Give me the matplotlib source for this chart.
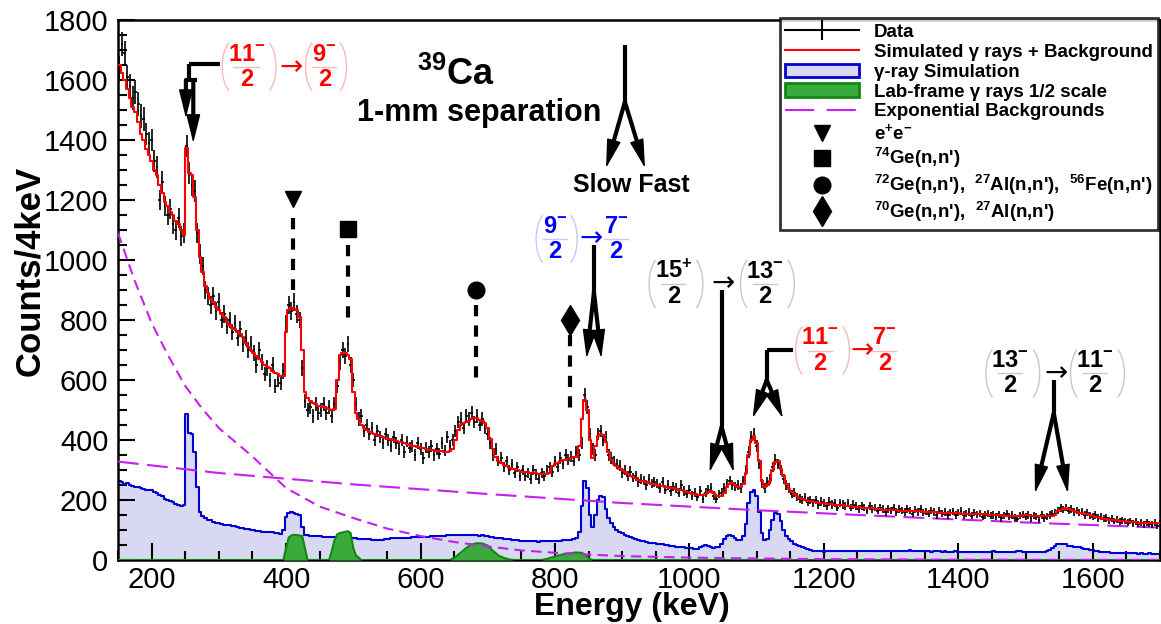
import matplotlib
matplotlib.use('Agg')
import matplotlib.pyplot as plt
import numpy as np
from matplotlib.lines import Line2D
from matplotlib.patches import Patch
from matplotlib.ticker import MultipleLocator

plt.rcParams['font.family'] = ['Liberation Sans', 'DejaVu Sans']
plt.rcParams['mathtext.fontset'] = 'custom'
plt.rcParams['mathtext.rm'] = 'Liberation Sans:bold'
plt.rcParams['mathtext.it'] = 'Liberation Sans:bold'
plt.rcParams['mathtext.bf'] = 'Liberation Sans:bold'

# 4 keV bins, centres 152 ... 1700 keV
data_counts = [
    1640, 1720, 1690, 1610, 1580, 1540, 1560, 1520, 1480, 1470, 1420, 1390, 1400, 1330, 1310, 1200, 1260, 1180, 1150, 1170, 1120, 1100, 1140, 1080, 1090,
    1380, 1290, 1250, 1230, 1090, 1020, 980, 900, 880, 850, 880, 830, 860, 800, 820, 780, 800, 760, 790, 740, 770, 720, 740, 700, 720,
    690, 650, 700, 660, 620, 640, 600, 650, 580, 600, 590, 630, 790, 850, 830, 860, 820, 800, 640, 530, 500, 510, 480, 520, 490,
    500, 520, 490, 510, 480, 520, 580, 660, 700, 680, 720, 650, 600, 520, 470, 480, 430, 450, 420, 440, 400, 430, 410, 390, 420,
    400, 380, 410, 390, 370, 400, 360, 395, 375, 380, 350, 390, 370, 340, 375, 360, 380, 350, 370, 355, 390, 365, 410, 380, 400,
    430, 460, 470, 440, 480, 470, 490, 460, 480, 450, 470, 440, 420, 390, 350, 370, 330, 340, 310, 330, 300, 320, 290, 310, 280,
    300, 280, 290, 270, 300, 285, 270, 290, 280, 300, 310, 295, 330, 310, 340, 320, 350, 335, 345, 330, 360, 350, 390, 550, 510,
    420, 370, 350, 420, 430, 400, 410, 350, 340, 330, 320, 315, 290, 300, 280, 295, 275, 280, 260, 270, 265, 250, 270, 255, 260,
    255, 240, 260, 235, 250, 230, 245, 240, 225, 250, 230, 220, 235, 215, 225, 210, 230, 205, 225, 235, 240, 215, 205, 220, 225,
    240, 255, 265, 250, 245, 250, 240, 265, 300, 360, 410, 420, 380, 320, 255, 240, 260, 270, 310, 335, 320, 300, 270, 250, 240,
    220, 225, 210, 205, 200, 210, 195, 200, 190, 200, 185, 195, 190, 180, 195, 185, 190, 175, 190, 185, 180, 190, 175, 185, 180,
    170, 180, 175, 165, 180, 170, 175, 165, 175, 170, 160, 170, 165, 175, 160, 170, 165, 160, 170, 165, 155, 168, 160, 170, 158,
    162, 155, 165, 160, 150, 165, 155, 160, 150, 158, 162, 150, 158, 165, 150, 155, 160, 148, 158, 152, 155, 145, 150, 155, 148,
    150, 145, 152, 140, 148, 155, 145, 150, 140, 138, 148, 152, 145, 150, 140, 148, 145, 135, 150, 140, 145, 150, 155, 158, 165,
    172, 168, 175, 165, 170, 160, 165, 158, 162, 150, 158, 148, 145, 150, 140, 145, 138, 140, 132, 138, 130, 135, 128, 132, 130,
    125, 130, 122, 128, 120, 125, 118, 126, 120, 118, 124, 115, 122,
]

sim_total = [
    1650, 1625, 1600, 1570, 1540, 1510, 1495, 1460, 1420, 1400, 1370, 1350, 1330, 1300, 1285, 1250, 1225, 1195, 1180, 1160, 1150, 1130, 1120, 1100, 1085,
    1375, 1290, 1285, 1210, 1100, 1010, 960, 915, 890, 870, 860, 845, 835, 820, 810, 795, 785, 775, 770, 760, 755, 745, 725, 710, 700,
    690, 680, 670, 660, 650, 645, 640, 630, 625, 620, 615, 612, 760, 835, 840, 838, 832, 810, 700, 560, 540, 530, 525, 520, 515,
    512, 510, 506, 503, 500, 505, 600, 685, 690, 690, 685, 670, 560, 490, 470, 450, 440, 432, 428, 422, 420, 416, 413, 411, 408,
    405, 402, 400, 397, 394, 392, 389, 386, 384, 381, 379, 376, 374, 372, 370, 368, 367, 366, 364, 363, 362, 361, 361, 362, 370,
    400, 435, 450, 456, 460, 465, 470, 472, 472, 468, 462, 456, 440, 405, 370, 345, 330, 322, 316, 312, 308, 305, 302, 299, 297,
    295, 294, 293, 291, 290, 289, 288, 288, 287, 287, 290, 315, 320, 325, 330, 333, 335, 338, 340, 342, 345, 380, 470, 535, 500,
    400, 340, 380, 415, 420, 418, 395, 360, 335, 320, 312, 305, 300, 293, 287, 281, 276, 272, 268, 265, 262, 259, 256, 254, 252,
    250, 248, 246, 244, 242, 240, 239, 237, 235, 232, 229, 226, 223, 221, 219, 218, 217, 217, 220, 226, 229, 225, 215, 212, 213,
    225, 245, 255, 258, 250, 244, 245, 255, 290, 350, 400, 412, 390, 330, 265, 245, 250, 265, 300, 328, 330, 305, 280, 255, 238,
    228, 220, 212, 207, 203, 200, 198, 196, 194, 192, 191, 190, 189, 188, 187, 186, 185, 184, 183, 182, 181, 180, 179, 178, 177,
    176, 175, 174, 173, 172, 172, 171, 170, 169, 168, 168, 167, 167, 166, 166, 165, 165, 164, 164, 164, 163, 163, 162, 162, 161,
    161, 160, 160, 159, 159, 158, 158, 158, 157, 157, 157, 156, 156, 155, 155, 155, 154, 154, 154, 153, 153, 152, 152, 151, 151,
    150, 150, 149, 149, 148, 148, 148, 147, 147, 147, 148, 149, 150, 149, 148, 147, 147, 146, 146, 146, 146, 146, 147, 150, 162,
    168, 170, 172, 170, 166, 162, 159, 157, 156, 155, 153, 150, 147, 144, 142, 140, 138, 136, 135, 134, 133, 132, 131, 130, 129,
    128, 127, 126, 126, 125, 125, 124, 124, 123, 123, 122, 122, 122,
]

sim_gamma = [
    262, 260, 255, 258, 250, 248, 245, 243, 240, 236, 235, 233, 232, 226, 222, 218, 214, 205, 200, 196, 192, 186, 183, 180, 182,
    486, 425, 420, 360, 245, 160, 148, 140, 135, 132, 128, 125, 122, 120, 118, 117, 116, 114, 112, 110, 108, 106, 104, 102, 100,
    99, 97, 96, 95, 94, 93, 92, 92, 90, 90, 88, 100, 145, 158, 160, 158, 155, 150, 110, 84, 82, 81, 80, 80, 79,
    79, 78, 78, 77, 77, 76, 76, 75, 75, 74, 74, 73, 72, 72, 71, 70, 70, 69, 70, 68, 68, 67, 67, 68, 70,
    71, 72, 72, 73, 73, 74, 74, 75, 75, 76, 76, 77, 77, 78, 78, 78, 79, 79, 80, 80, 81, 81, 82, 82, 83,
    83, 84, 84, 83, 85, 82, 84, 85, 83, 81, 82, 80, 79, 78, 76, 75, 74, 72, 71, 70, 69, 68, 67, 66, 65,
    65, 64, 63, 63, 62, 62, 61, 62, 62, 63, 63, 64, 64, 65, 65, 66, 66, 67, 67, 70, 72, 95, 180, 265, 240,
    150, 110, 150, 200, 212, 210, 170, 140, 122, 110, 100, 94, 89, 85, 81, 77, 74, 71, 68, 65, 63, 61, 58, 57, 56,
    55, 53, 52, 50, 49, 48, 46, 45, 44, 43, 42, 40, 39, 39, 38, 38, 42, 46, 50, 47, 42, 40, 42, 45, 55,
    70, 80, 83, 80, 72, 68, 66, 80, 120, 190, 228, 235, 215, 160, 90, 68, 70, 100, 135, 156, 152, 130, 100, 80, 70,
    62, 55, 50, 46, 42, 39, 36, 33, 31, 30, 29, 29, 28, 29, 30, 30, 29, 29, 30, 30, 29, 30, 31, 30, 30,
    29, 30, 31, 30, 30, 31, 30, 29, 30, 31, 30, 30, 29, 30, 31, 30, 29, 30, 31, 32, 31, 30, 29, 30, 29,
    30, 29, 28, 29, 30, 29, 28, 29, 28, 27, 28, 29, 28, 27, 28, 27, 28, 27, 26, 27, 28, 27, 26, 27, 28,
    29, 28, 27, 27, 26, 27, 26, 27, 28, 30, 29, 28, 27, 28, 27, 27, 28, 28, 27, 27, 30, 33, 40, 48, 52,
    54, 53, 52, 48, 46, 45, 43, 42, 40, 38, 36, 34, 32, 30, 29, 28, 27, 26, 26, 25, 25, 24, 24, 23, 23,
    23, 22, 22, 22, 21, 22, 21, 21, 22, 21, 21, 21, 21,
]

# lab-frame gamma rays (1/2 scale)
lab_energy = [150, 396, 400, 404, 408, 412, 416, 420, 424, 428, 432,
              464, 468, 472, 476, 480, 484, 488, 492, 496, 500, 504, 508, 512,
              644, 652, 660, 668, 676, 684, 692, 700, 708, 716, 724, 732, 740,
              780, 790, 800, 810, 820, 830, 840, 846, 852, 856, 1700]
lab_counts = [0, 0, 40, 75, 82, 84, 83, 82, 80, 40, 0,
              0, 30, 65, 85, 90, 92, 94, 96, 90, 40, 15, 8, 0,
              0, 10, 25, 40, 52, 56, 55, 48, 30, 15, 7, 2, 0,
              0, 5, 12, 18, 22, 25, 24, 15, 3, 0, 0]

# exponential backgrounds
bg1_energy = [150, 175, 200, 225, 250, 275, 300, 350, 400, 450, 500, 550, 600,
              650, 700, 750, 800, 850, 900, 1000, 1100, 1200, 1400, 1700]
bg1_counts = [1090, 930, 790, 680, 580, 505, 440, 345, 240, 178, 140, 105, 80,
              60, 45, 32, 24, 18, 13, 8, 5, 3, 1, 0.3]
bg2_energy = [150, 300, 500, 700, 900, 1100, 1300, 1500, 1700]
bg2_counts = [328, 290, 252, 220, 190, 166, 145, 125, 108]

energy = 152 + 4 * np.arange(len(data_counts))
data_counts = np.array(data_counts)

RED = '#ff0000'
BLUE = '#0000d0'
LAV = '#d8d8f2'
GREEN = '#3aaa3a'
DKGREEN = '#118811'
MAG = '#c81ef0'

fig = plt.figure(figsize=(11.61, 6.24), dpi=100)
ax = fig.add_axes([118 / 1161, 64 / 624, 1042 / 1161, 540 / 624])

ax.fill_between(energy, sim_gamma, step='mid', color=LAV, lw=0, zorder=1)
ax.step(energy, sim_gamma, where='mid', color=BLUE, lw=1.5, zorder=2)
ax.fill_between(lab_energy, lab_counts, color=GREEN, lw=0, zorder=3)
ax.plot(lab_energy, lab_counts, color=DKGREEN, lw=1.5, zorder=3)
ax.plot(bg1_energy, bg1_counts, color=MAG, lw=1.5, ls=(0, (5, 3)), zorder=4)
ax.plot(bg2_energy, bg2_counts, color=MAG, lw=1.5, ls=(0, (10, 4)), zorder=4)
ax.errorbar(energy, data_counts, xerr=2, yerr=np.sqrt(data_counts), fmt='none',
            ecolor='k', elinewidth=1.2, capsize=0, zorder=5)
ax.step(energy, sim_total, where='mid', color=RED, lw=1.5, zorder=6)

ax.set_xlim(150, 1700)
ax.set_ylim(0, 1800)
ax.xaxis.set_major_locator(MultipleLocator(200))
ax.xaxis.set_minor_locator(MultipleLocator(50))
ax.yaxis.set_major_locator(MultipleLocator(200))
ax.yaxis.set_minor_locator(MultipleLocator(50))
ax.tick_params(which='both', direction='in', top=False, right=False, width=1.5)
ax.tick_params(which='major', length=12, labelsize=21)
ax.tick_params(axis='x', which='major', pad=4)
ax.tick_params(axis='y', which='major', pad=7)
ax.tick_params(which='minor', length=6.5)
for s in ax.spines.values():
    s.set_linewidth(1.8)

ax.set_xlabel('Energy (keV)', fontsize=23, fontweight='bold')
ax.set_ylabel('Counts/4keV', fontsize=25, fontweight='bold')
ax.xaxis.set_label_coords(0.493, -0.059)
ax.yaxis.set_label_coords(-0.069, 0.535)

# titles
ax.text(653, 1617, r'$^{39}$Ca', fontsize=26, fontweight='bold', ha='center', va='center')
ax.text(688, 1490, '1-mm separation', fontsize=22, fontweight='bold', ha='center', va='center')
ax.text(914, 1250, 'Slow Fast', fontsize=18, fontweight='bold', ha='center', va='center')


def stem(x0, y0, x1, y1):
    ax.plot([x0, x1], [y0, y1], color='k', lw=3, solid_capstyle='butt', zorder=7)


def head(x0, y0, x1, y1):
    # thick shaft stopping short of the tip, then a slim filled head
    ax.annotate('', xy=(x1, y1), xytext=(x0, y0),
                arrowprops=dict(arrowstyle='-', lw=3, color='k', shrinkA=0, shrinkB=12),
                zorder=7)
    ax.annotate('', xy=(x1, y1), xytext=(x0, y0),
                arrowprops=dict(arrowstyle='-|>,head_length=1.3,head_width=0.32',
                                lw=1, color='k', mutation_scale=14, shrinkA=0, shrinkB=0),
                zorder=7)


def paren(x, c, color, left=True):
    # thin bracket drawn as a bow, x is its outermost point
    t = np.linspace(-1, 1, 30)
    bow = 20 * (1 - np.cos(t))
    px = x + bow if left else x - bow
    ax.plot(px, c + 78 * np.sin(t) / np.sin(1), color=color, lw=1, zorder=7)


def spin(e, c, num, sign, color, pale, parens=True):
    ax.text(e, c + 42, num + r'$^{%s}$' % sign, color=color, fontsize=17,
            fontweight='bold', ha='center', va='center')
    ax.text(e, c - 42, '2', color=color, fontsize=17, fontweight='bold',
            ha='center', va='center')
    ax.plot([e - 18, e + 18], [c, c], color=pale, lw=1)
    if parens:
        wl, wr = (36, 44) if len(num) > 1 else (28, 33)
        paren(e - wl, c, pale, left=True)
        paren(e + wr, c, pale, left=False)


def trans_arrow(e, c, color):
    ax.text(e, c, '→', color=color, fontsize=20, ha='center', va='center',
            family='DejaVu Sans')


# Slow / Fast arrow
stem(904, 1717, 904, 1527)
head(904, 1527, 876, 1307)
head(904, 1527, 934, 1307)

# (11/2-) -> (9/2-)
spin(341, 1644, '11', '-', RED, '#ffb8b8')
trans_arrow(407, 1644, RED)
spin(457, 1644, '9', '-', RED, '#ffb8b8')
stem(301, 1653, 255, 1653)
stem(255, 1653, 255, 1600)
stem(249, 1600, 267, 1600)
head(251, 1600, 251, 1473)
head(262, 1600, 262, 1390)

# (9/2-) -> 7/2-
spin(800, 1070, '9', '-', '#0000ff', '#c8c8ff')
trans_arrow(853, 1072, '#0000ff')
spin(891, 1070, '7', '-', '#0000ff', '#c8c8ff', parens=False)
stem(858, 1050, 858, 893)
head(858, 893, 847, 673)
head(858, 893, 869, 673)

# (15/2+) -> (13/2-)
spin(976, 920, '15', '+', 'k', '#c8c8c8')
trans_arrow(1050, 922, 'k')
spin(1112, 920, '13', '-', 'k', '#c8c8c8')
stem(1048, 900, 1048, 443)
head(1048, 443, 1030, 293)
head(1048, 443, 1066, 293)

# (11/2-) -> 7/2-
spin(1194, 698, '11', '-', RED, '#ffb8b8')
trans_arrow(1257, 700, RED)
spin(1290, 698, '7', '-', RED, '#ffb8b8', parens=False)
stem(1154, 700, 1115, 700)
stem(1115, 700, 1115, 600)
head(1115, 600, 1094, 473)
head(1115, 600, 1139, 473)

# (13/2-) -> (11/2-)
spin(1477, 622, '13', '-', 'k', '#c8c8c8')
trans_arrow(1545, 624, 'k')
spin(1603, 622, '11', '-', 'k', '#c8c8c8')
stem(1542, 600, 1542, 490)
head(1542, 490, 1514, 223)
head(1542, 490, 1563, 223)

# contaminant markers
dash = (0, (2.7, 2.2))
ax.plot(411, 1203, 'kv', ms=12, zorder=7)
ax.plot([411, 411], [1140, 900], color='k', lw=3, ls=dash, zorder=7)
ax.plot(492, 1102, 'ks', ms=11, zorder=7)
ax.plot([492, 492], [1050, 780], color='k', lw=3, ls=dash, zorder=7)
ax.plot(682, 900, 'ko', ms=12, zorder=7)
ax.plot([682, 682], [850, 600], color='k', lw=3, ls=dash, zorder=7)
ax.plot(823, 800, 'kd', ms=15, zorder=7)
ax.plot([823, 823], [750, 500], color='k', lw=3, ls=dash, zorder=7)

handles = [
    Line2D([], [], color='k', lw=1.5, marker='|', ms=14, mew=1.5),
    Line2D([], [], color=RED, lw=1.5),
    Patch(facecolor=LAV, edgecolor=BLUE, lw=2),
    Patch(facecolor=GREEN, edgecolor=DKGREEN, lw=2),
    Line2D([], [], color=MAG, lw=1.5, ls=(0, (14, 6))),
    Line2D([], [], color='k', marker='v', ls='none', ms=12),
    Line2D([], [], color='k', marker='s', ls='none', ms=11),
    Line2D([], [], color='k', marker='o', ls='none', ms=12),
    Line2D([], [], color='k', marker='d', ls='none', ms=15),
]
labels = [
    'Data',
    'Simulated γ rays + Background',
    'γ-ray Simulation',
    'Lab-frame γ rays 1/2 scale',
    'Exponential Backgrounds',
    r'e$^{+}$e$^{-}$',
    r"$^{74}$Ge(n,n')",
    r"$^{72}$Ge(n,n'),  $^{27}$Al(n,n'),  $^{56}$Fe(n,n')",
    r"$^{70}$Ge(n,n'),  $^{27}$Al(n,n')",
]
leg = fig.legend(handles, labels, loc='upper right', bbox_to_anchor=(1158 / 1161, 1 - 18 / 624),
                 prop={'size': 13.5, 'weight': 'bold'}, frameon=True, fancybox=False,
                 handlelength=3.9, handletextpad=0.8, labelspacing=0.15, borderpad=0.3,
                 borderaxespad=0)
leg.get_frame().set_edgecolor('k')
leg.get_frame().set_linewidth(2)

fig.savefig('out.png', dpi=100)
